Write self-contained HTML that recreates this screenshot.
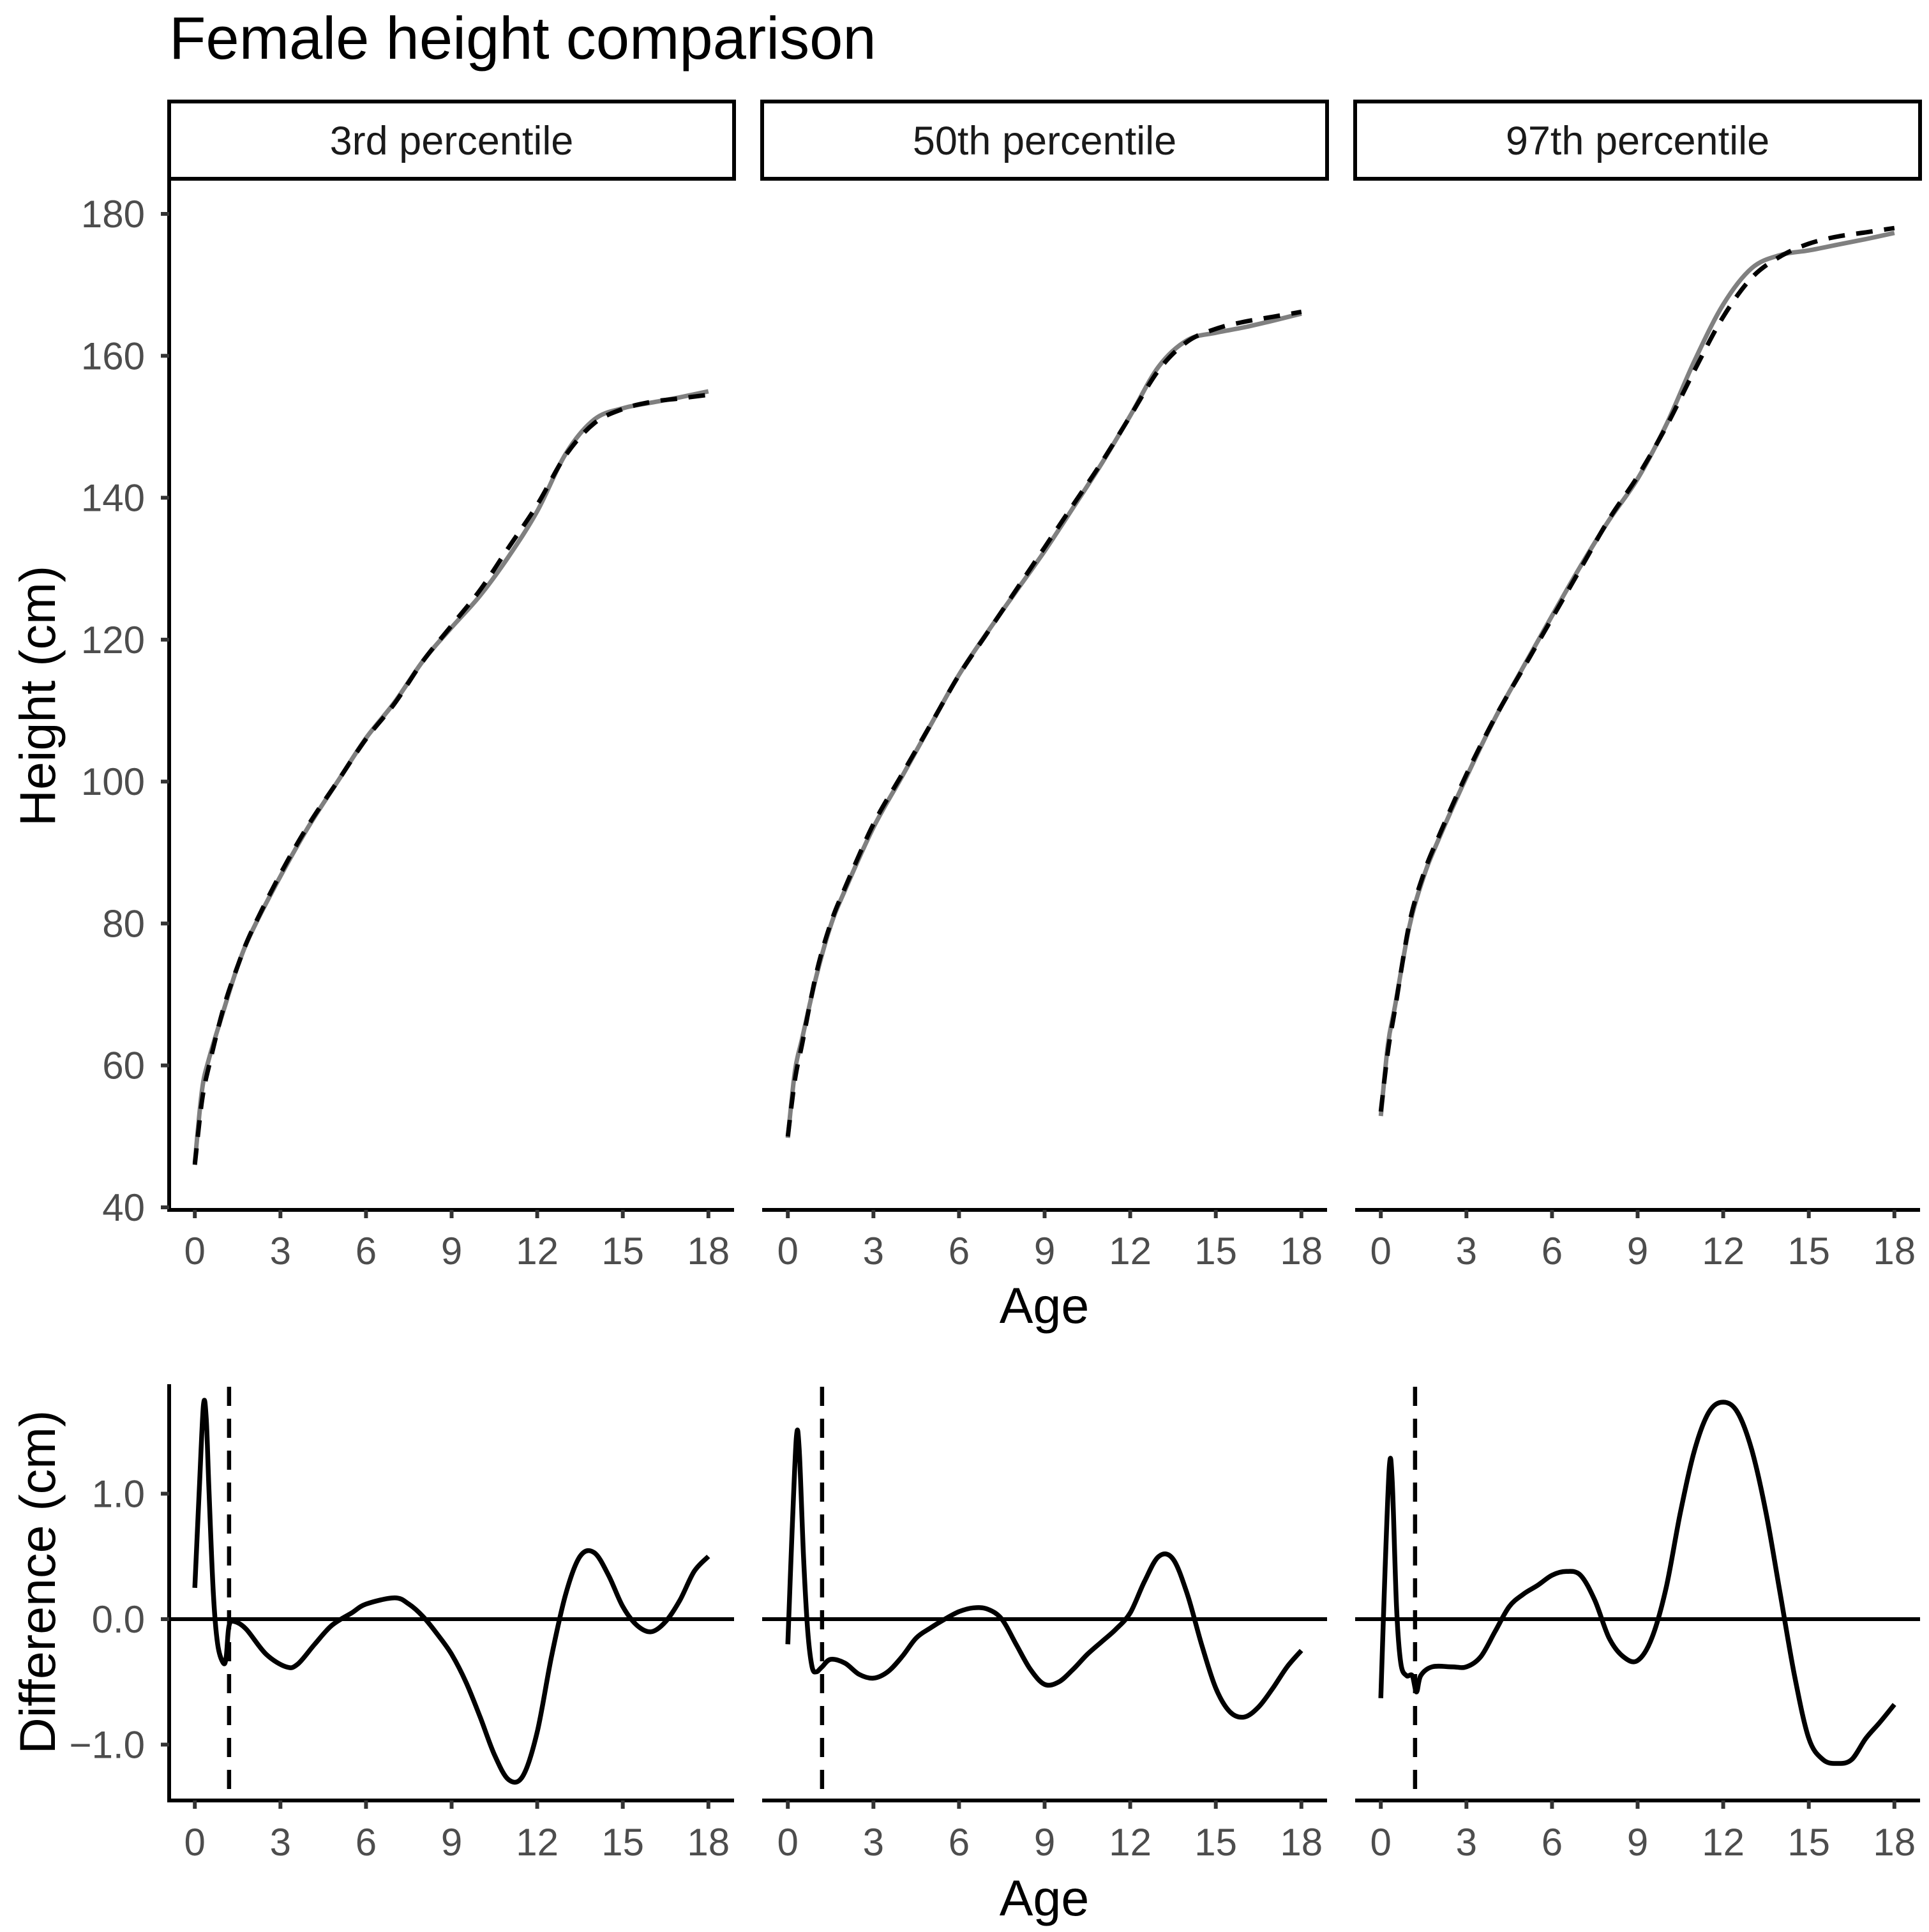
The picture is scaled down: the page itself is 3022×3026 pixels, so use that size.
<!DOCTYPE html>
<html><head><meta charset="utf-8"><style>
html,body{margin:0;padding:0;background:#fff;}
svg{display:block;font-family:"Liberation Sans",Arial,sans-serif;}
</style></head><body>
<svg id="chart" width="3022" height="3026" viewBox="0 0 3022 3026" xmlns="http://www.w3.org/2000/svg">
<text x="265" y="92" font-size="94" fill="#000">Female height comparison</text>
<text transform="translate(86,1090) rotate(-90)" text-anchor="middle" font-size="79" fill="#000">Height (cm)</text>
<text transform="translate(86,2478) rotate(-90)" text-anchor="middle" font-size="79" fill="#000">Difference (cm)</text>
<text x="1636" y="2072" text-anchor="middle" font-size="79" fill="#000">Age</text>
<text x="1636" y="3000" text-anchor="middle" font-size="79" fill="#000">Age</text>
<g id="plots"></g>
</svg>
<script>
const panelNames = ["3rd percentile","50th percentile","97th percentile"];
const heightAges = [0,0.25,0.5,1,1.5,2,3,4,5,6,7,8,9,10,11,12,13,14,15,16,17,18];
const refHeight3 = [46,55,60,68,74,79,87,94,100,106,111,117,122,127,133,139,146,150.5,152.5,153.5,154,154.5];
const refHeight50 = [50,58,63,73,80,85,94,101,108,115,121,127,133,139,145,151.5,158,162,163.8,164.8,165.5,166.2];
const refHeight97 = [53.5,62,68,80,87,92,101,109,116,123,130,137,143,150,158,165.5,171,174,175.8,176.8,177.4,178];
const diffAges3 = [0,0.15,0.3,0.4,0.5,0.65,0.8,1.0,1.1,1.2,1.4,1.8,2.5,3.2,3.6,4.2,4.8,5.5,6,7,7.5,8,8.5,9,9.5,10,10.5,11,11.5,12,12.5,13,13.5,14,14.5,15,15.5,16,16.5,17,17.5,18];
const diff3 = [0.25,1.0,1.7,1.6,1.0,0.2,-0.2,-0.35,-0.3,-0.05,-0.02,-0.08,-0.28,-0.38,-0.36,-0.2,-0.05,0.05,0.12,0.17,0.12,0.02,-0.12,-0.28,-0.5,-0.78,-1.08,-1.28,-1.25,-0.9,-0.3,0.2,0.5,0.53,0.35,0.1,-0.05,-0.1,-0.02,0.15,0.38,0.5];
const diffAges50 = [0,0.15,0.3,0.4,0.55,0.7,0.85,1.0,1.2,1.5,2,2.5,3,3.5,4,4.5,5,5.5,6,6.5,7,7.5,8,8.5,9,9.5,10,10.5,11,11.5,12,12.5,13,13.5,14,14.5,15,15.5,16,16.5,17,17.5,18];
const diff50 = [-0.2,0.7,1.45,1.35,0.5,-0.1,-0.38,-0.42,-0.38,-0.32,-0.35,-0.44,-0.47,-0.42,-0.3,-0.15,-0.07,0,0.06,0.09,0.08,0,-0.2,-0.4,-0.52,-0.5,-0.4,-0.28,-0.18,-0.08,0.05,0.3,0.5,0.48,0.2,-0.2,-0.55,-0.74,-0.78,-0.7,-0.55,-0.38,-0.25];
const diffAges97 = [0,0.15,0.3,0.4,0.55,0.7,0.9,1.1,1.25,1.4,1.8,2.5,3,3.5,4,4.5,5,5.5,6,6.5,7,7.5,8,8.5,9,9.5,10,10.5,11,11.5,12,12.5,13,13.5,14,14.5,15,15.5,16,16.5,17,17.5,18];
const diff97 = [-0.63,0.4,1.22,1.1,0.1,-0.35,-0.45,-0.45,-0.58,-0.45,-0.38,-0.38,-0.38,-0.3,-0.1,0.1,0.2,0.27,0.35,0.38,0.35,0.15,-0.15,-0.3,-0.33,-0.15,0.25,0.85,1.35,1.65,1.73,1.65,1.35,0.85,0.2,-0.45,-0.95,-1.12,-1.15,-1.12,-0.95,-0.82,-0.68];
const cutoffAge = 1.2;
const xTicks = [0,3,6,9,12,15,18];
const heightTicks = [40,60,80,100,120,140,160,180];
const diffTicks = [-1,0,1];
const diffTickLabels = ["\u22121.0","0.0","1.0"];

const refs = [refHeight3, refHeight50, refHeight97];
const dAges = [diffAges3, diffAges50, diffAges97];
const diffs = [diff3, diff50, diff97];

const NS = "http://www.w3.org/2000/svg";
const root = document.getElementById('plots');
function mk(tag, attrs, parent){const e=document.createElementNS(NS,tag);for(const k in attrs)e.setAttribute(k,attrs[k]);(parent||root).appendChild(e);return e;}
const panelLeft = [265,1194,2123], panelW = 885;
const topY0 = 280, topY1 = 1895, botY0 = 2168, botY1 = 2820;
function xScale(p,a){return panelLeft[p] + (a + 0.9)/19.8*panelW;}
function yTop(h){return 1891 - (h-40)*(1891-335)/140;}
function yBot(d){return 2536 - d*196.5;}
function interp(xs,ys,x){if(x<=xs[0])return ys[0];for(let i=1;i<xs.length;i++){if(x<=xs[i]){const t=(x-xs[i-1])/(xs[i]-xs[i-1]);return ys[i-1]+t*(ys[i]-ys[i-1]);}}return ys[ys.length-1];}
function smoothPath(pts){let d="M"+pts[0][0].toFixed(1)+","+pts[0][1].toFixed(1);for(let i=0;i<pts.length-1;i++){const p0=pts[i-1]||pts[i],p1=pts[i],p2=pts[i+1],p3=pts[i+2]||p2;const c1=[p1[0]+(p2[0]-p0[0])/6,p1[1]+(p2[1]-p0[1])/6];const c2=[p2[0]-(p3[0]-p1[0])/6,p2[1]-(p3[1]-p1[1])/6];d+="C"+c1[0].toFixed(1)+","+c1[1].toFixed(1)+" "+c2[0].toFixed(1)+","+c2[1].toFixed(1)+" "+p2[0].toFixed(1)+","+p2[1].toFixed(1);}return d;}

for(let p=0;p<3;p++){
  const L=panelLeft[p], R=L+panelW;
  const g=mk('g',{});
  
  
  const strip=mk('rect',{x:L,y:159,width:panelW,height:121,fill:'#fff',stroke:'#000','stroke-width':6},g);
  
  
  const st=mk('text',{x:L+panelW/2,y:242,'text-anchor':'middle','font-size':63,fill:'#1a1a1a'},g);
  st.textContent=panelNames[p];
  
  
  const ax1=mk('path',{d:p===0?`M${L},${topY0} V${topY1} H${R}`:`M${L},${topY1} H${R}`,fill:'none',stroke:'#000','stroke-width':6},g);
  
  
  const ax2=mk('path',{d:p===0?`M${L},${botY0} V${botY1} H${R}`:`M${L},${botY1} H${R}`,fill:'none',stroke:'#000','stroke-width':6},g);
  
  
  xTicks.forEach(t=>{
    const x=xScale(p,t);
    [[topY1,1980],[botY1,2906]].forEach(([ay,ly])=>{
      mk('line',{x1:x,y1:ay,x2:x,y2:ay+13,stroke:'#333','stroke-width':6},g);
      const tl=mk('text',{x:x,y:ly,'text-anchor':'middle','font-size':60,fill:'#4d4d4d'},g);
      tl.textContent=t;
      
      
    });
  });
  if(p===0){
    heightTicks.forEach(h=>{
      const y=yTop(h);
      mk('line',{x1:L-13,y1:y,x2:L,y2:y,stroke:'#333','stroke-width':6},g);
      const tl=mk('text',{x:L-38,y:y+21,'text-anchor':'end','font-size':60,fill:'#4d4d4d'},g);tl.textContent=h;
      
      
    });
    diffTicks.forEach((d,i)=>{
      const y=yBot(d);
      mk('line',{x1:L-13,y1:y,x2:L,y2:y,stroke:'#333','stroke-width':6},g);
      const tl=mk('text',{x:L-38,y:y+21,'text-anchor':'end','font-size':60,fill:'#4d4d4d'},g);tl.textContent=diffTickLabels[i];
      
      
    });
  }
  const zl=mk('line',{x1:L,y1:yBot(0),x2:R,y2:yBot(0),stroke:'#000','stroke-width':6},g);
  
  
  const cx=xScale(p,cutoffAge);
  const cl=mk('line',{x1:cx,y1:botY0+4,x2:cx,y2:botY1,stroke:'#000','stroke-width':6.5,'stroke-dasharray':'30,20'},g);
  
  
  const ref=refs[p];
  const greyPts=heightAges.map((a,i)=>[xScale(p,a),yTop(ref[i]+interp(dAges[p],diffs[p],a))]);
  const refPts=heightAges.map((a,i)=>[xScale(p,a),yTop(ref[i])]);
  const gl=mk('path',{d:smoothPath(greyPts),fill:'none',stroke:'#808080','stroke-width':7},g);
  
  
  const rl=mk('path',{d:smoothPath(refPts),fill:'none',stroke:'#000','stroke-width':7,'stroke-dasharray':'26,18'},g);
  
  
  const dPts=dAges[p].map((a,i)=>[xScale(p,a),yBot(diffs[p][i])]);
  const dl=mk('path',{d:smoothPath(dPts),fill:'none',stroke:'#000','stroke-width':7.5},g);
  
  
}
</script>
</body></html>
